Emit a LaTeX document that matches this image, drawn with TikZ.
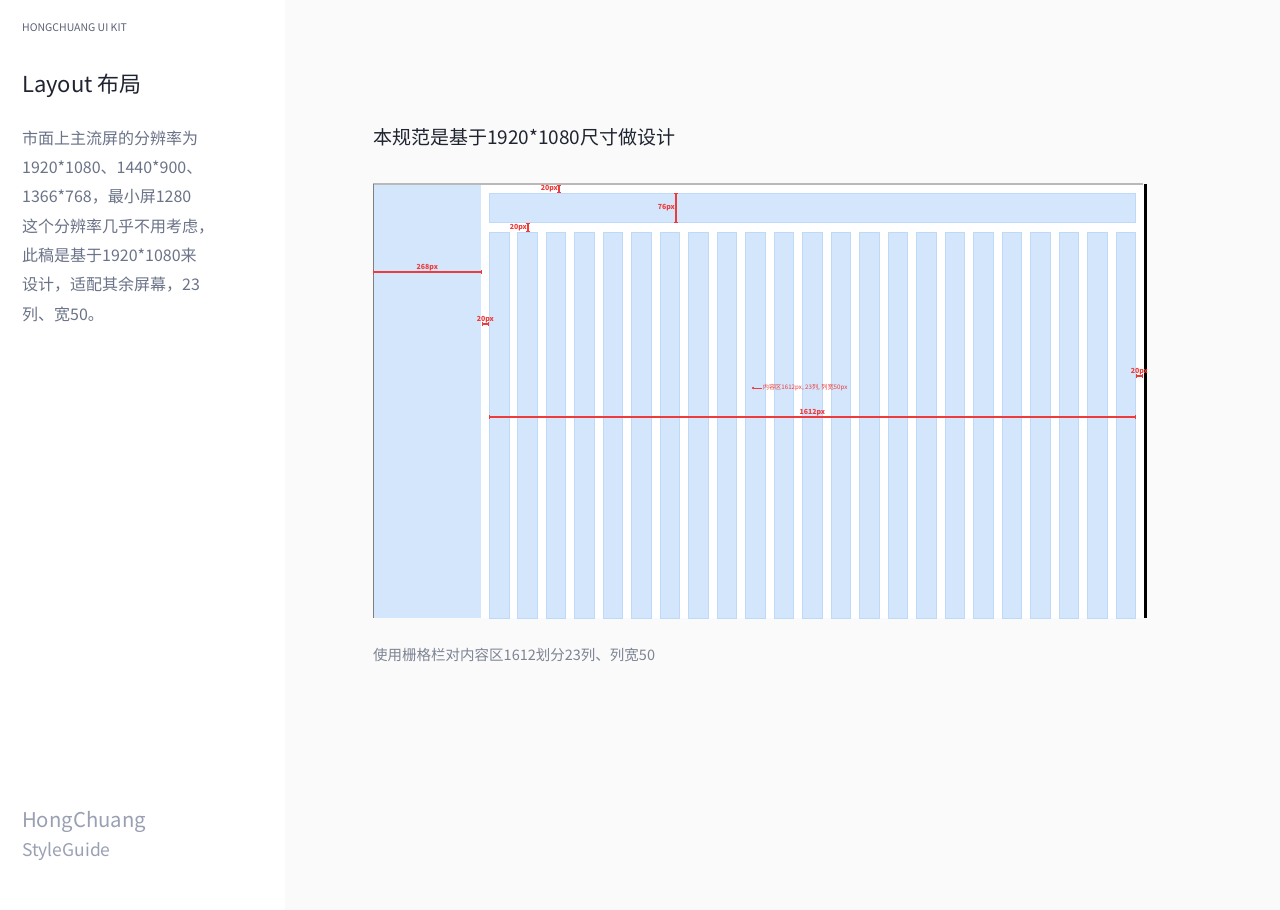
\documentclass[tikz,border=0pt]{standalone}
\usepackage{fontspec}
\newfontfamily\cjk{Noto Sans CJK SC}
\usetikzlibrary{arrows.meta}

\definecolor{pagebg}{HTML}{FAFAFA}
\definecolor{colfill}{HTML}{D3E6FC}
\definecolor{colline}{HTML}{BFDAF8}
\definecolor{dimred}{HTML}{EE3B3B}
\definecolor{inktitle}{HTML}{1F2430}
\definecolor{inkbody}{HTML}{6B7388}
\definecolor{inksmall}{HTML}{5B6275}
\definecolor{inkbrand}{HTML}{9AA0B3}
\definecolor{inkcap}{HTML}{7E8494}

\begin{document}
\begin{tikzpicture}
    [
        x=1pt, y=-1pt,
        grid box/.style={fill=colfill, draw=colline, line width=0.6pt, inner sep=0pt, anchor=north west},
        dim line/.style={draw=dimred, line width=1.1pt, {Bar[width=4.5pt]}-{Bar[width=4.5pt]}},
        dim label/.style={text=dimred, font=\cjk\bfseries\fontsize{7}{8}\selectfont, inner sep=0.6pt},
        plain text/.style={anchor=west, inner sep=0pt}
    ]

    \useasboundingbox (0,0) rectangle (1280,910);
    \fill[white] (0,0) rectangle (285,910);
    \fill[pagebg] (285,0) rectangle (1280,910);

    % left column texts
    \node [plain text, text=inksmall, font=\cjk\fontsize{10.5}{12}\selectfont] (kit) at (22,28) {HONGCHUANG UI KIT};
    \node [plain text, text=inktitle, font=\cjk\fontsize{22}{24}\selectfont] (layout) at (22,86) {Layout 布局};
    \node [anchor=north west, inner sep=0pt, align=left, text=inkbody, font=\cjk\fontsize{16}{29.3}\selectfont] (intro) at (22,130.5)
        {市面上主流屏的分辨率为\\1920*1080、1440*900、\\1366*768，最小屏1280\\这个分辨率几乎不用考虑，\\此稿是基于1920*1080来\\设计，适配其余屏幕，23\\列、宽50。};
    \node [plain text, text=inkbrand, font=\cjk\fontsize{20.3}{22}\selectfont] (brand) at (22,822) {HongChuang};
    \node [plain text, text=inkbrand, font=\cjk\fontsize{17.5}{20}\selectfont] (guide) at (22,852) {StyleGuide};

    % right side texts
    \node [plain text, text=inktitle, font=\cjk\fontsize{19}{22}\selectfont] (title) at (373,137) {本规范是基于1920*1080尺寸做设计};
    \node [plain text, text=inkcap, font=\cjk\fontsize{14.5}{16}\selectfont] (caption) at (373,655) {使用栅格栏对内容区1612划分23列、列宽50};

    % screen frame
    \fill[white] (373,184) rectangle (1145,618);
    \node [grid box, draw=none, minimum width=108, minimum height=433] (side) at (373,185) {};
    \node [grid box, minimum width=646, minimum height=29] (head) at (489,193) {};
    \foreach \i in {1,...,23}
        \node [grid box, minimum width=19.5, minimum height=386] (c\i) at ({489+(\i-1)*28.48},232) {};
    \draw[gray!55, line width=1.5pt] (373,184) -- (1143,184);
    \draw[gray, line width=1pt] (373,184) -- (373,618);
    \draw[black, line width=3pt] (1145,184) -- (1145,618);

    % measures
    \draw[dim line] (559,185) -- (head.north -| 559,0) node[dim label, midway, left] {20px};
    \draw[dim line] (head.north -| 676,0) -- (head.south -| 676,0) node[dim label, midway, left] {76px};
    \draw[dim line] (head.south -| 528,0) -- (c2.north -| 528,0) node[dim label, midway, left] {20px};
    \draw[dim line] (side.west |- 0,272) -- (side.east |- 0,272) node[dim label, midway, above] {268px};
    \draw[dim line] (side.east |- 0,324) -- (c1.west |- 0,324) node[dim label, midway, above] {20px};
    \draw[dim line] (c1.west |- 0,417) -- (c23.east |- 0,417) node[dim label, midway, above] {1612px};
    \draw[dim line] (c23.east |- 0,376) -- (1143,376) node[dim label, midway, above] {20px};
    \node [dim label, font=\cjk\fontsize{6.2}{7}\selectfont, anchor=west] (note) at (762,388) {内容区1612px, 23列, 列宽50px};
    \draw[draw=dimred, line width=0.8pt, {Circle[length=2.2pt]}-] (752,388) -- (note.west);
\end{tikzpicture}
\end{document}
